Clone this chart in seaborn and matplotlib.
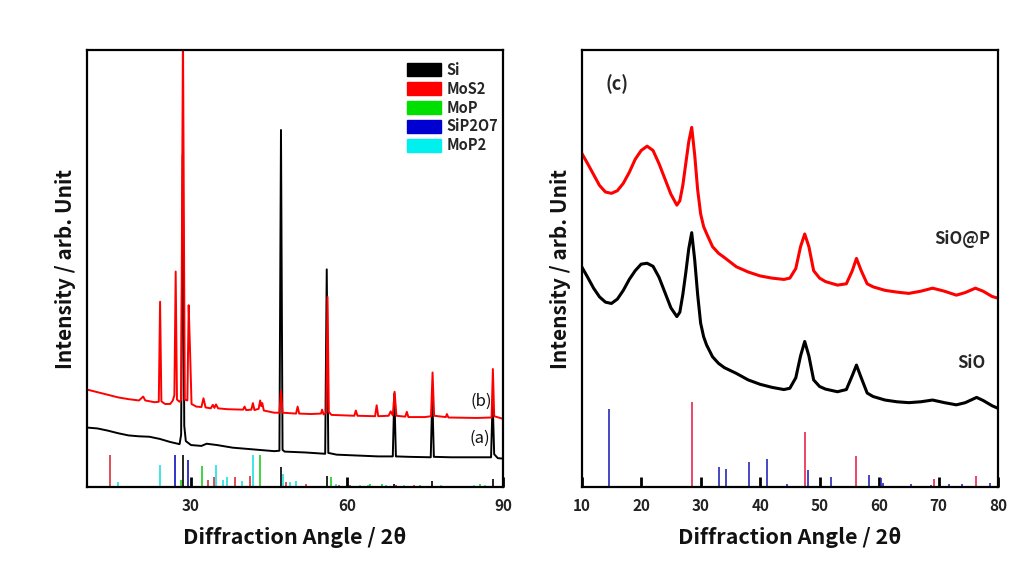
import numpy as np
import pandas as pd
import matplotlib
matplotlib.use("Agg")
import matplotlib.pyplot as plt
from matplotlib.patches import Patch
import seaborn as sns

sns.set_theme(style="white")
plt.rcParams['font.family'] = ['Noto Sans CJK KR', 'DejaVu Sans']

# ---------------- Left panel data (a) Si, (b) composite ----------------
a_x = [10, 12, 14, 16, 18, 20, 22, 24, 26, 27.8, 28.1, 28.4, 28.7, 29.0, 30, 32, 33, 35, 38, 42, 46,
       47.0, 47.3, 47.6, 48, 52, 55.8, 56.1, 56.4, 58, 62, 66, 68.8, 69.1, 69.4, 72, 76.1, 76.4, 76.7,
       80, 85, 87.7, 88.0, 88.3, 89, 90]
a_y = [13.6, 13.4, 12.9, 12.3, 11.8, 11.6, 11.5, 11.0, 10.3, 9.8, 12.0, 76.0, 14.0, 10.5, 9.6, 9.4, 9.9, 9.6,
       9.0, 8.6, 8.2, 8.3, 81.7, 8.5, 8.1, 7.9, 7.6, 49.8, 7.8, 7.4, 7.2, 7.0, 7.0, 21.4, 7.0, 6.9, 6.8,
       21.0, 6.9, 6.8, 6.8, 6.8, 20.0, 7.5, 6.6, 6.5]

b_x = [10, 12, 14, 16, 18, 20, 20.8, 21.2, 23, 23.8, 24.05, 24.3, 25, 26, 26.5, 26.8, 27.05, 27.3, 27.8,
       28.1, 28.45, 28.8, 29.3, 29.55, 29.8, 30.1, 31, 32, 32.4, 32.8, 33.8, 34.2, 34.5, 34.8, 35.2, 37,
       40, 40.3, 40.6, 41.6, 41.9, 42.2, 43.0, 43.3, 43.5, 43.7, 44.0, 46, 47.0, 47.3, 47.6, 50.2, 50.5,
       50.8, 53, 55.0, 55.2, 55.5, 56.0, 56.25, 56.5, 57, 61.4, 61.7, 62, 65.4, 65.7, 66, 68, 68.4, 68.8,
       69.15, 69.5, 71.2, 71.5, 71.8, 75, 76.15, 76.45, 76.75, 79.0, 79.2, 79.5, 85, 87.8, 88.05, 88.3, 90]
b_y = [22.3, 21.7, 21.1, 20.5, 20.1, 19.8, 20.7, 19.8, 19.4, 19.5, 42.4, 19.6, 19.0, 19.0, 19.8, 21.0,
       49.3, 20.0, 19.5, 20.0, 105.0, 20.0, 19.8, 41.6, 31.7, 19.0, 18.4, 18.3, 20.3, 18.2, 18.0, 18.8,
       18.1, 18.9, 18.0, 17.8, 17.7, 18.4, 17.6, 17.7, 19.2, 17.6, 17.9, 19.8, 18.5, 19.2, 17.5, 17.0,
       17.0, 22.0, 17.0, 16.8, 18.4, 16.8, 16.7, 16.8, 17.7, 16.6, 17.0, 43.5, 17.2, 16.5, 16.3, 17.5,
       16.3, 16.2, 18.7, 16.2, 16.3, 17.3, 16.4, 21.8, 16.3, 16.1, 17.2, 16.0, 16.0, 16.2, 26.2, 16.3,
       16.0, 16.7, 15.9, 15.8, 15.9, 27.0, 16.2, 15.6]

# reference sticks (left)
si_pos = [28.4, 47.3, 56.1, 69.1, 76.4, 88.0]
si_h = [7.25, 4.6, 2.5, 0.6, 1.4, 1.8]
mos2_pos = [14.4, 33.3, 34.5, 38.5, 41.4, 48.2, 52.2, 58.5, 60.5, 69.4, 72.8]
mos2_h = [7.25, 1.6, 2.3, 2.3, 2.5, 1.2, 0.7, 0.5, 0.5, 0.5, 0.4]
mop_pos = [28.0, 32.2, 43.3, 57.0, 64.5, 66.8, 74.0, 85.5]
mop_h = [1.5, 4.8, 7.25, 2.3, 0.6, 0.6, 0.4, 0.6]
sip2o7_pos = [27.0, 29.5]
sip2o7_h = [7.25, 6.2]
mop2_pos = [16.0, 24.0, 34.9, 36.2, 37.0, 39.9, 41.9, 47.6, 49.0, 50.2, 57.8, 62.5, 64.0, 67.5,
            71.0, 78.0, 84.5, 86.5]
mop2_h = [1.1, 5.0, 5.0, 1.6, 2.3, 1.4, 7.25, 3.0, 1.2, 1.4, 0.6, 0.4, 0.4, 0.4, 0.4, 0.4, 0.5, 0.5]

# ---------------- Right panel data ----------------
p_x = [10, 11, 12, 13, 14, 15, 16, 17, 18, 19, 20, 21, 22, 23, 24, 25, 26, 26.5, 27, 27.5, 28, 28.5,
       29, 29.5, 30, 30.5, 31, 32, 33, 34, 36, 38, 40, 42, 44, 45, 46, 46.8, 47.5, 48.2, 49, 50, 51,
       53, 54.5, 55.5, 56.2, 57, 58, 59, 61, 63, 65, 67, 69, 71, 73, 74.5, 76.2, 77.5, 79, 80]
p_y = [76.4, 74.0, 71.5, 69.0, 67.5, 67.2, 67.8, 69.5, 72.0, 75.0, 77.0, 78.0, 77.0, 74.0, 70.5, 67.0,
       64.5, 65.5, 69.0, 74.0, 79.0, 82.3, 76.0, 68.0, 62.5, 59.6, 58.0, 55.0, 53.5, 52.5, 50.4, 49.2,
       48.3, 47.8, 47.5, 47.8, 50.0, 55.0, 57.9, 55.0, 49.5, 47.8, 47.0, 46.2, 46.5, 49.5, 52.3, 49.5,
       46.5, 45.8, 45.0, 44.6, 44.3, 44.8, 45.5, 44.8, 43.9, 44.5, 45.5, 44.8, 43.6, 43.2]

s_x = [10, 11, 12, 13, 14, 15, 16, 17, 18, 19, 20, 21, 22, 23, 24, 25, 26, 26.5, 27, 27.5, 28, 28.5,
       29, 29.5, 30, 30.5, 31, 32, 33, 34, 36, 38, 40, 42, 44, 45, 46, 46.8, 47.5, 48.2, 49, 50, 51,
       53, 54.5, 55.5, 56.2, 57, 58, 59, 61, 63, 65, 67, 69, 71, 73, 74.5, 76.4, 77.5, 79, 80]
s_y = [50.4, 48.0, 45.5, 43.5, 42.3, 42.0, 43.0, 45.0, 47.5, 49.5, 51.0, 51.2, 50.5, 48.0, 44.5, 41.0,
       39.0, 40.0, 44.0, 49.0, 54.5, 58.2, 52.0, 44.0, 37.5, 34.4, 32.5, 29.8, 28.3, 27.3, 26.0, 24.5,
       23.5, 22.8, 22.3, 22.6, 25.0, 30.0, 33.3, 30.0, 24.5, 23.0, 22.4, 21.8, 22.3, 25.5, 27.9, 25.0,
       21.5, 20.7, 19.9, 19.5, 19.3, 19.5, 19.9, 19.3, 18.8, 19.3, 20.5, 19.8, 18.6, 18.0]

ref_blue_pos = [14.6, 33.1, 34.3, 38.2, 41.2, 44.5, 48.1, 52.0, 58.3, 60.4, 60.7, 65.3, 68.8, 71.8, 74.0, 78.7]
ref_blue_h = [17.8, 4.6, 4.1, 5.8, 6.3, 0.7, 4.0, 2.4, 2.8, 2.0, 1.0, 0.7, 0.5, 0.8, 0.6, 0.9]
ref_red_pos = [28.6, 47.5, 56.1, 69.3, 76.3]
ref_red_h = [19.5, 12.5, 7.1, 1.8, 2.6]

left_ticks = [30, 60, 90]
right_ticks = [10, 20, 30, 40, 50, 60, 70, 80]
legend_labels = ["Si", "MoS2", "MoP", "SiP2O7", "MoP2"]
legend_colors = ["#000000", "#ff0000", "#00e000", "#0000d0", "#00f0f0"]

fig = plt.figure(figsize=(10.31, 5.67), dpi=100)
axL = fig.add_axes([0.0844, 0.1411, 0.4035, 0.7707])
axR = fig.add_axes([0.5642, 0.1411, 0.4038, 0.7707])

# ---- left ----
for pos, h, c in [(mos2_pos, mos2_h, "#d8303a"), (mop2_pos, mop2_h, "#20e0e0"),
                  (mop_pos, mop_h, "#20cc20"), (sip2o7_pos, sip2o7_h, "#1010c0"),
                  (si_pos, si_h, "#000000")]:
    axL.vlines(pos, 0, h, colors=c, linewidth=1.2)
sns.lineplot(x=a_x, y=a_y, ax=axL, color="black", linewidth=1.4, sort=False, estimator=None)
sns.lineplot(x=b_x, y=b_y, ax=axL, color="#ff0000", linewidth=1.4, sort=False, estimator=None)
axL.set_xlim(10, 90)
axL.set_ylim(0, 100)
axL.set_xticks(left_ticks)
axL.set_yticks([])
axL.text(85.9, 19.5, "(b)", fontsize=12, color="#111111", ha="center", va="center")
axL.text(85.6, 11.1, "(a)", fontsize=12, color="#111111", ha="center", va="center")
handles = [Patch(facecolor=c, edgecolor=c) for c in legend_colors]
axL.legend(handles, legend_labels, loc="upper left", bbox_to_anchor=(0.752, 0.99), frameon=False,
           handlelength=2.3, handleheight=1.05, labelspacing=0.2, handletextpad=0.4,
           borderpad=0.0, prop={'weight': 'bold', 'size': 10.5})

# ---- right ----
axR.vlines(ref_blue_pos, 0, ref_blue_h, colors="#2828b8", linewidth=1.2)
axR.vlines(ref_red_pos, 0, ref_red_h, colors="#e8284a", linewidth=1.2)
sns.lineplot(x=s_x, y=s_y, ax=axR, color="black", linewidth=2.2, sort=False, estimator=None)
sns.lineplot(x=p_x, y=p_y, ax=axR, color="#ff0000", linewidth=2.2, sort=False, estimator=None)
axR.set_xlim(10, 80)
axR.set_ylim(0, 100)
axR.set_xticks(right_ticks)
axR.set_yticks([])
axR.text(16.0, 92.2, "(c)", fontsize=13, fontweight="bold", ha="center", va="center")
axR.text(74.0, 56.8, "SiO@P", fontsize=12, fontweight="bold", ha="center", va="center")
axR.text(75.5, 28.3, "SiO", fontsize=12, fontweight="bold", ha="center", va="center")

for ax in (axL, axR):
    for s in ax.spines.values():
        s.set_visible(True)
        s.set_color("black")
        s.set_linewidth(1.6)
    ax.tick_params(axis="x", direction="in", length=7, width=2, colors="black",
                   labelsize=11, pad=8, bottom=True)
    for lbl in ax.get_xticklabels():
        lbl.set_fontweight("bold")
        lbl.set_color("#222222")
    ax.set_xlabel("Diffraction Angle / 2θ", fontsize=15.5, fontweight="bold", color="#111111", labelpad=9)
    ax.set_ylabel("Intensity / arb. Unit", fontsize=15, fontweight="bold", color="#111111", labelpad=8)

fig.savefig("out.png", dpi=100, facecolor="white")
